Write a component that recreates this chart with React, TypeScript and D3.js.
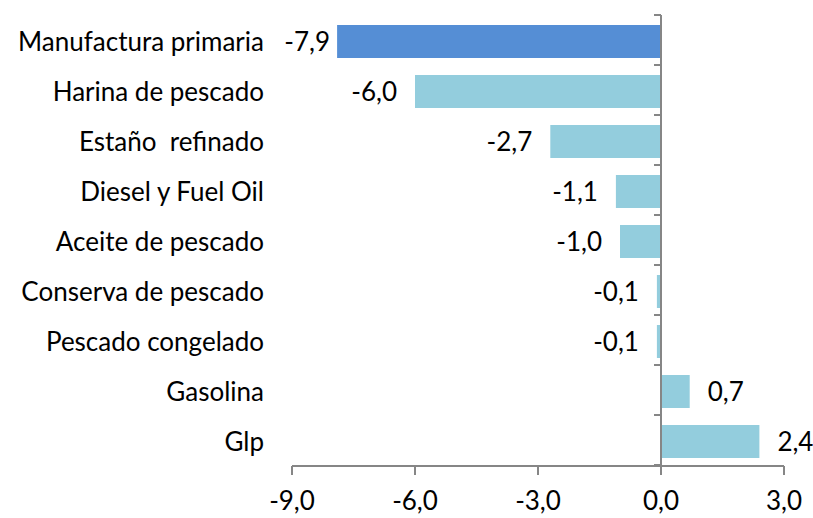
import React from "react";
import * as d3 from "d3";

const categories = [
  "Manufactura primaria",
  "Harina de pescado",
  "Estaño  refinado",
  "Diesel y Fuel Oil",
  "Aceite de pescado",
  "Conserva de pescado",
  "Pescado congelado",
  "Gasolina",
  "Glp",
];
const values = [-7.9, -6.0, -2.7, -1.1, -1.0, -0.1, -0.1, 0.7, 2.4];
const xTicks = [-9, -6, -3, 0, 3];

const W = 813;
const H = 518;
const FONT = "Lato, Carlito, Calibri, 'Liberation Sans', sans-serif";
const FS = 26;

const fmt = (v: number) => v.toFixed(1).replace(".", ",");

export default function App() {
  const x = d3.scaleLinear().domain([-9, 3]).range([292, 784]);
  const y = d3
    .scaleBand<string>()
    .domain(categories)
    .range([16.5, 466.5])
    .paddingInner(0.34)
    .paddingOuter(0.17);
  const yb = d3.scaleBand<string>().domain(categories).range([15, 465]);
  const x0 = x(0);
  const axisY = 466;
  const axisColor = "#868686";
  const boundaries = [...categories.map((c) => yb(c) as number), 465];

  return (
    <svg
      width={W}
      height={H}
      style={{ position: "absolute", left: 0, top: 0, background: "#fff" }}
      fontFamily={FONT}
    >
      {categories.map((c, i) => {
        const v = values[i];
        const bx = x(Math.min(0, v));
        const bw = Math.abs(x(v) - x0);
        const by = y(c) as number;
        const bh = y.bandwidth();
        const cy = by + bh / 2;
        const neg = v < 0;
        const gap = i === 0 ? 7 : 18;
        return (
          <g key={c}>
            <rect
              x={bx}
              y={by}
              width={bw}
              height={bh}
              fill={i === 0 ? "#558ED5" : "#93CDDD"}
            />
            <text
              x={neg ? x(v) - gap : x(v) + gap}
              y={cy}
              dy="0.36em"
              textAnchor={neg ? "end" : "start"}
              fontSize={FS}
              fill="#000"
            >
              {fmt(v)}
            </text>
            <text
              x={264}
              y={cy}
              dy="0.36em"
              textAnchor="end"
              fontSize={FS}
              fill="#000"
              style={{ whiteSpace: "pre" }}
            >
              {c}
            </text>
          </g>
        );
      })}
      {/* vertical axis */}
      <line x1={x0} x2={x0} y1={15} y2={axisY} stroke={axisColor} strokeWidth={2} />
      {boundaries.map((b, i) => (
        <line key={i} x1={x0 - 7} x2={x0} y1={b} y2={b} stroke={axisColor} strokeWidth={2} />
      ))}
      {/* horizontal axis */}
      <line x1={x(-9)} x2={x(3)} y1={axisY} y2={axisY} stroke={axisColor} strokeWidth={2} />
      {xTicks.map((t) => (
        <g key={t}>
          <line x1={x(t)} x2={x(t)} y1={axisY} y2={axisY + 9} stroke={axisColor} strokeWidth={2} />
          <text x={x(t)} y={510} textAnchor="middle" fontSize={FS} fill="#000">
            {fmt(t)}
          </text>
        </g>
      ))}
    </svg>
  );
}
